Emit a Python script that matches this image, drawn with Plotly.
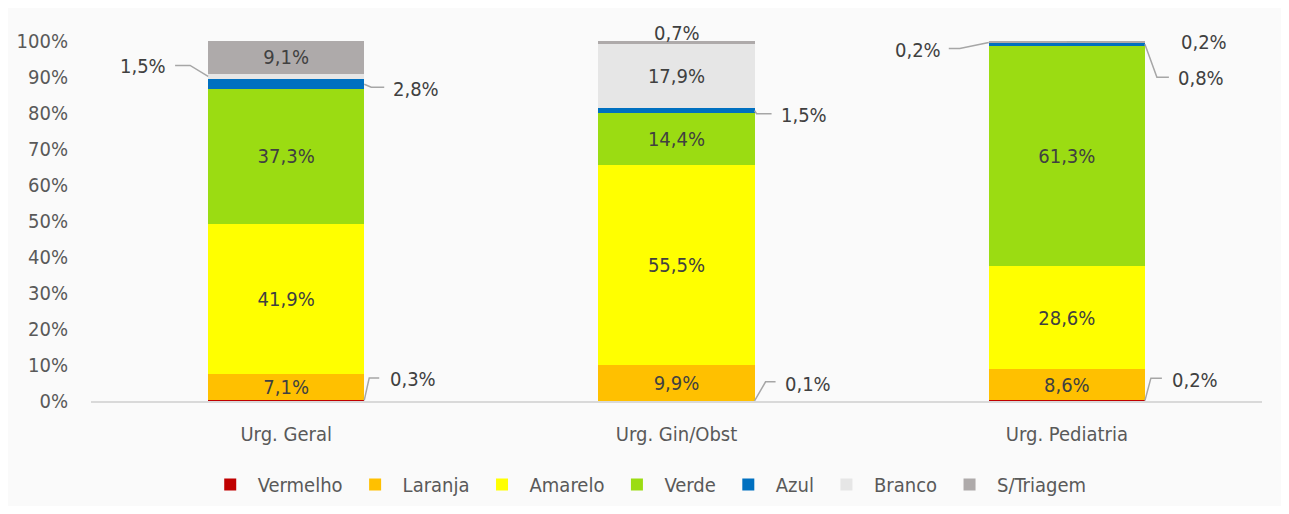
import plotly.graph_objects as go

# ---------------- data ----------------
categories = ["Urg. Geral", "Urg. Gin/Obst", "Urg. Pediatria"]
series_names = ["Vermelho", "Laranja", "Amarelo", "Verde", "Azul", "Branco", "S/Triagem"]
vermelho = [0.3, 0.1, 0.2]
laranja = [7.1, 9.9, 8.6]
amarelo = [41.9, 55.5, 28.6]
verde = [37.3, 14.4, 61.3]
azul = [2.8, 1.5, 0.8]
branco = [1.5, 17.9, 0.2]
s_triagem = [9.1, 0.7, 0.2]
y_tick_values = [0, 10, 20, 30, 40, 50, 60, 70, 80, 90, 100]
y_tick_labels = ["0%", "10%", "20%", "30%", "40%", "50%", "60%", "70%", "80%", "90%", "100%"]

# ---------------- style ----------------
colors = ["#c00000", "#ffc000", "#ffff00", "#9bdc12", "#0070c0", "#e6e6e6", "#aeaaaa"]
PAGE_OFF = 8  # body margin of the html page
W, H = 1289 - 2 * PAGE_OFF, 514 - 2 * PAGE_OFF
ML, MT = 91 - PAGE_OFF, 41 - PAGE_OFF
MR = W - (1262 - PAGE_OFF)
MB = H - (401 - PAGE_OFF)
BAR_W = 0.40
FONT = "Liberation Sans Narrow, DejaVu Sans Condensed, Roboto Condensed, Roboto, sans-serif"
TXT = "#404040"
AX = "#595959"
LINE = "#a6a6a6"
FS = 20

values = [vermelho, laranja, amarelo, verde, azul, branco, s_triagem]
xs = list(range(len(categories)))
x_range = [-0.5, len(categories) - 0.5]
y_range = [0, 100]
px_per_x = (W - ML - MR) / (x_range[1] - x_range[0])
px_per_y = (H - MT - MB) / (y_range[1] - y_range[0])


def fmt(v):
    return f"{v:.1f}%".replace(".", ",")


def to_paper_x(x):
    return (x - x_range[0]) / (x_range[1] - x_range[0])


def to_paper_y(y):
    return (y - y_range[0]) / (y_range[1] - y_range[0])


fig = go.Figure()
for name, vals, col in zip(series_names, values, colors):
    texts = [fmt(v) if v >= 5 else "" for v in vals]
    fig.add_trace(go.Bar(
        name=name, x=xs, y=vals, width=BAR_W, marker=dict(color=col, line=dict(width=0)),
        text=texts, textposition="inside", insidetextanchor="middle", textangle=0,
        constraintext="none",
        textfont=dict(family=FONT, size=FS, color=TXT), hoverinfo="skip",
    ))

# callouts: (category index, series index, anchor side, elbow dx, elbow dy, end dx, end dy, text dx, text dy)
callouts = [
    (0, 5, "L", -18, -11, -33, -11, -40, -10),
    (0, 4, "R", 7, 3, 20, 3, 27, 5),
    (0, 0, "R", 5, -22.5, 15, -22.5, 24, -21),
    (1, 4, "R", 2, 3, 17, 3, 24, 4),
    (1, 0, "R", 11, -19, 21, -19, 28, -17),
    (1, 6, "C", None, None, None, None, 0, -8),
    (2, 5, "L", -29, 6, -40, 6, -46, 8),
    (2, 6, "C", 50, -2, 106, -3, 112, 0),
    (2, 4, "R", 12, 33, 24, 33, 31, 34),
    (2, 0, "R", 6, -22.5, 17, -22.5, 25, -21),
]

annotations = []
for ci, si, side, ex, ey, nx, ny, tx, ty in callouts:
    below = sum(values[k][ci] for k in range(si))
    v = values[si][ci]
    if side == "L":
        ax0 = ci - BAR_W / 2
    elif side == "R":
        ax0 = ci + BAR_W / 2
    else:
        ax0 = ci
    if side == "C" and ex is None:
        ay0 = below + v
    else:
        ay0 = below + v / 2
    if ex is not None:
        lx = [ax0, ax0 + ex / px_per_x, ax0 + nx / px_per_x]
        ly = [ay0, ay0 - ey / px_per_y, ay0 - ny / px_per_y]
        fig.add_trace(go.Scatter(x=lx, y=ly, mode="lines", line=dict(color=LINE, width=1.5),
                                 showlegend=False, hoverinfo="skip", cliponaxis=False))
    anchor = "right" if tx < 0 else ("left" if tx > 0 else "center")
    annotations.append(dict(
        x=to_paper_x(ax0 + tx / px_per_x), y=to_paper_y(ay0 - ty / px_per_y),
        xref="paper", yref="paper",
        text=fmt(v), showarrow=False, xanchor=anchor, yanchor="middle",
        font=dict(family=FONT, size=FS, color=TXT),
    ))

fig.update_layout(
    barmode="stack",
    width=W, height=H,
    margin=dict(l=ML, r=MR, t=MT, b=MB, autoexpand=False),
    paper_bgcolor="#fafafa", plot_bgcolor="#fafafa",
    font=dict(family=FONT, size=FS, color=AX),
    annotations=annotations,
    showlegend=True,
    legend=dict(orientation="h", x=0.475, xanchor="center", y=-0.178, yanchor="top",
                traceorder="normal", font=dict(family=FONT, size=FS, color=AX),
                itemwidth=45, bgcolor="rgba(0,0,0,0)"),
    xaxis=dict(range=x_range, tickmode="array", tickvals=xs, ticktext=categories,
               showgrid=False, zeroline=False, showline=True, linecolor="#d9d9d9", linewidth=2,
               ticks="", ticklabelstandoff=14, tickfont=dict(family=FONT, size=FS, color=AX),
               automargin=False, fixedrange=True),
    yaxis=dict(range=y_range, tickmode="array", tickvals=y_tick_values, ticktext=y_tick_labels,
               showgrid=False, zeroline=False, showline=False, ticks="",
               ticklabelstandoff=22, tickfont=dict(family=FONT, size=FS, color=AX),
               automargin=False, fixedrange=True),
)

fig.write_html("out.html")
